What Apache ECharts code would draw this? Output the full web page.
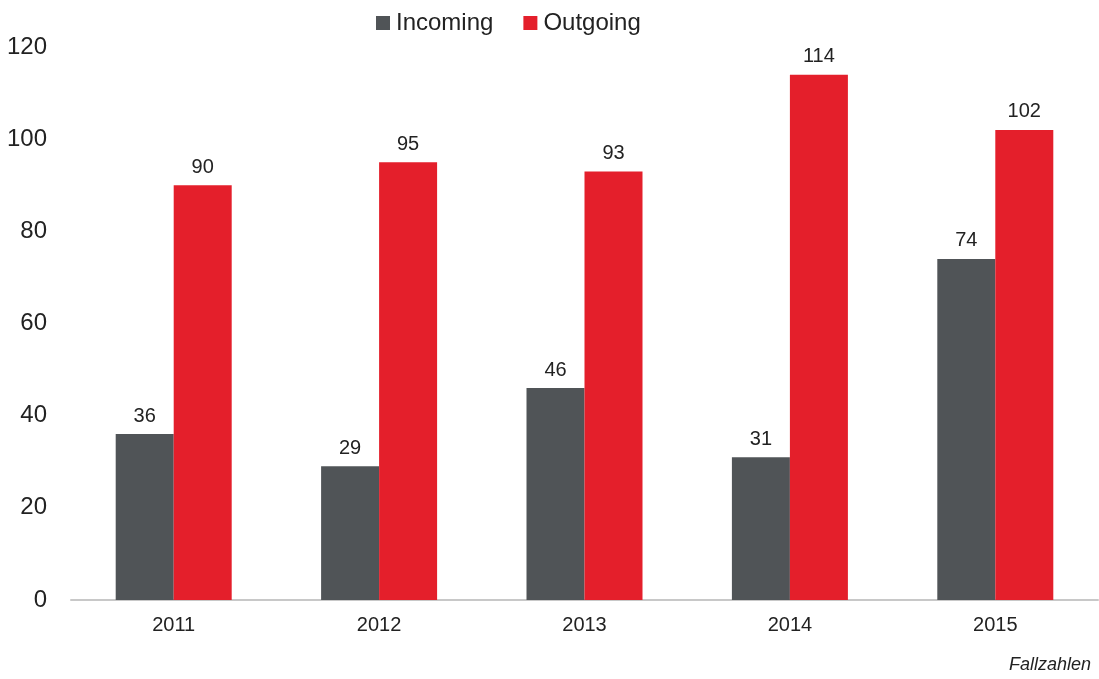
<!DOCTYPE html>
<html>
<head>
<meta charset="utf-8">
<script src="https://cdn.jsdelivr.net/npm/echarts@6/dist/echarts.min.js"></script>
<style>
html,body{margin:0;padding:0;background:#fff;}
#chart{width:1099px;height:679px;}
</style>
</head>
<body>
<div id="chart"></div>
<script>
var categories = ['2011', '2012', '2013', '2014', '2015'];
var incoming = [36, 29, 46, 31, 74];
var outgoing = [90, 95, 93, 114, 102];
var yTicks = [0, 20, 40, 60, 80, 100, 120];

var chart = echarts.init(document.getElementById('chart'));
var font = '"Liberation Sans", Arial, sans-serif';
chart.setOption({
  animation: false,
  textStyle: {fontFamily: font},
  legend: {
    top: 6,
    left: 371,
    itemWidth: 14,
    itemHeight: 14,
    itemGap: 30,
    icon: 'rect',
    textStyle: {fontSize: 24, color: '#222', fontFamily: font, padding: [0, 0, 0, 1]},
    data: ['Incoming', 'Outgoing']
  },
  graphic: [{
    type: 'text',
    right: 8,
    top: 656,
    style: {text: 'Fallzahlen', font: 'italic 18px "Liberation Sans", Arial, sans-serif', fill: '#222'}
  }],
  grid: {left: 71, right: 1, top: 47, bottom: 79, containLabel: false},
  xAxis: {
    type: 'category',
    data: categories,
    axisLine: {lineStyle: {color: '#c8c8c8', width: 2}},
    axisTick: {show: false},
    axisLabel: {fontSize: 20, color: '#222', margin: 15, fontFamily: font}
  },
  yAxis: {
    type: 'value',
    min: yTicks[0],
    max: yTicks[yTicks.length - 1],
    interval: 20,
    splitLine: {show: false},
    axisLine: {show: false},
    axisTick: {show: false},
    axisLabel: {fontSize: 24, color: '#222', margin: 24, fontFamily: font}
  },
  series: [{
    name: 'Incoming',
    type: 'bar',
    data: incoming,
    barWidth: 58,
    barGap: '0%',
    itemStyle: {color: '#505457'},
    label: {show: true, position: 'top', distance: 8, fontSize: 20, color: '#222', fontFamily: font}
  }, {
    name: 'Outgoing',
    type: 'bar',
    data: outgoing,
    barWidth: 58,
    barGap: '0%',
    itemStyle: {color: '#e41f2b'},
    label: {show: true, position: 'top', distance: 8, fontSize: 20, color: '#222', fontFamily: font}
  }]
});
</script>
</body>
</html>
